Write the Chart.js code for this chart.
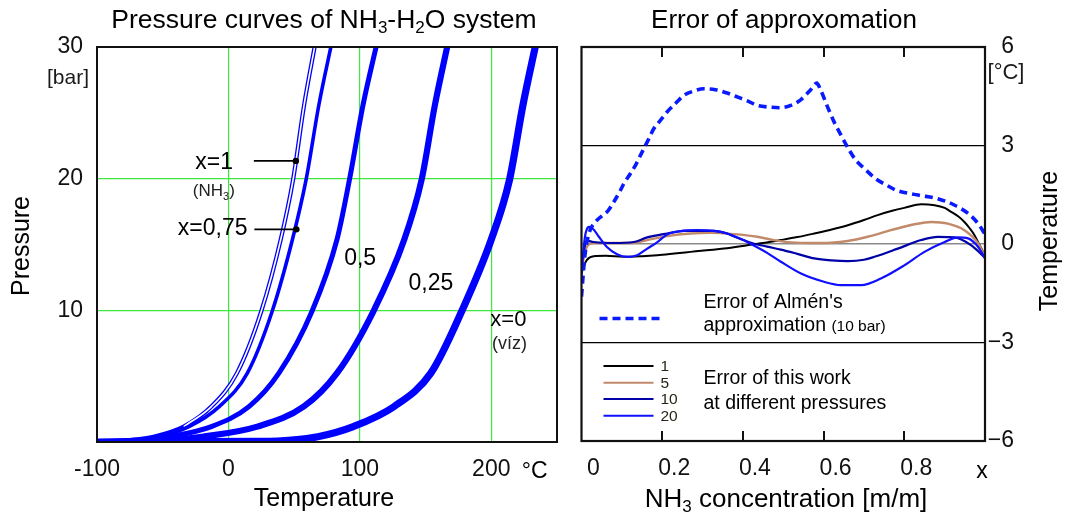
<!DOCTYPE html>
<html><head><meta charset="utf-8">
<script src="https://cdn.jsdelivr.net/npm/chart.js@4.4.0/dist/chart.umd.min.js"></script>
<style>
html,body{margin:0;padding:0;background:#fff;}
#wrap{position:relative;width:1068px;height:517px;overflow:hidden;}
canvas{position:absolute;left:0;top:0;}
</style></head><body>
<div id="wrap"><canvas id="left" width="1068" height="517"></canvas><canvas id="right" width="1068" height="517"></canvas></div>
<script>
const FONT = "'Liberation Sans', Arial, sans-serif";

// ---------- Left panel: pressure curves (T in °C at given pressure in bar) ----------
const pressures = [0, 0.05, 0.15, 0.4, 1.17, 2.69, 5.23, 9.93, 15.38, 19.93, 25.54, 30.5];
const tempX1    = [-100, -90, -75, -57, -34, -13, 6.5, 25, 39.8, 49.2, 57.5, 66.5];
const tempX075  = [-100, -88, -71, -53, -30, -7, 14.4, 33.3, 48.7, 59.1, 68.7, 79];
const tempX05   = [-100, -85, -63, -45, -13, 15.6, 38.4, 63.6, 82.6, 92.1, 102.3, 113.5];
const tempX025  = [-100, -70, -44, -20, 22, 57.3, 82.6, 110.3, 133.8, 147, 157, 167.5];
const tempX0    = [-100, 25, 48, 68, 95, 126, 154, 177.5, 200, 213.9, 224, 234.5];
const tempTicks = [-100, 0, 100, 200];
const pressureTicks = [0, 10, 20, 30];
// leader-line anchor points on curves (T, P)
const markerX1 = [51.3, 21.35];
const markerX075 = [51.7, 16.15];

// ---------- Right panel: approximation error (°C) vs NH3 concentration ----------
const concAlmen = [0, 0.008, 0.018, 0.033, 0.05, 0.065, 0.08, 0.095, 0.105, 0.121, 0.134, 0.146, 0.167, 0.179, 0.196, 0.212, 0.233, 0.254, 0.279, 0.303, 0.332, 0.361, 0.382, 0.411, 0.436, 0.465, 0.491, 0.519, 0.544, 0.568, 0.583, 0.593, 0.61, 0.626, 0.639, 0.664, 0.68, 0.701, 0.73, 0.755, 0.78, 0.834, 0.883, 0.925, 0.958, 0.983, 1.0];
const errAlmen  = [-1.6, -0.4, 0.3, 0.65, 0.85, 1.0, 1.28, 1.6, 1.84, 2.14, 2.4, 2.7, 3.21, 3.51, 3.77, 4.02, 4.28, 4.53, 4.66, 4.73, 4.70, 4.60, 4.50, 4.36, 4.22, 4.17, 4.15, 4.22, 4.40, 4.70, 4.90, 4.68, 4.17, 3.72, 3.41, 2.85, 2.55, 2.30, 1.98, 1.80, 1.64, 1.49, 1.38, 1.18, 0.93, 0.62, 0.3];
const conc1  = [0, 0.005, 0.013, 0.03, 0.06, 0.104, 0.15, 0.188, 0.23, 0.27, 0.31, 0.353, 0.411, 0.45, 0.494, 0.535, 0.577, 0.62, 0.66, 0.7, 0.734, 0.77, 0.8, 0.842, 0.875, 0.9, 0.916, 0.935, 0.949, 0.962, 0.974, 0.985, 0.995, 1.0];
const err1   = [-0.9, -0.7, -0.49, -0.37, -0.36, -0.39, -0.37, -0.34, -0.29, -0.24, -0.19, -0.14, -0.04, 0.03, 0.12, 0.21, 0.32, 0.44, 0.57, 0.73, 0.88, 1.01, 1.1, 1.21, 1.18, 1.1, 0.98, 0.83, 0.67, 0.48, 0.27, 0.0, -0.24, -0.43];
const conc5  = [0, 0.006, 0.015, 0.03, 0.08, 0.13, 0.163, 0.212, 0.27, 0.32, 0.378, 0.436, 0.477, 0.52, 0.57, 0.618, 0.66, 0.709, 0.767, 0.825, 0.867, 0.908, 0.949, 0.983, 1.0];
const err5   = [-0.8, -0.4, -0.05, 0.03, 0.03, 0.04, 0.12, 0.24, 0.32, 0.34, 0.30, 0.22, 0.12, 0.05, 0.03, 0.04, 0.09, 0.22, 0.42, 0.60, 0.67, 0.62, 0.42, 0.02, -0.39];
const conc10 = [0, 0.006, 0.013, 0.03, 0.08, 0.13, 0.163, 0.212, 0.254, 0.328, 0.361, 0.38, 0.42, 0.46, 0.494, 0.535, 0.577, 0.62, 0.66, 0.7, 0.726, 0.784, 0.842, 0.883, 0.925, 0.966, 0.99, 1.0];
const err10  = [-0.6, -0.2, 0.1, 0.06, 0.03, 0.06, 0.2, 0.32, 0.40, 0.40, 0.32, 0.22, 0.04, -0.08, -0.17, -0.3, -0.44, -0.5, -0.52, -0.48, -0.39, -0.14, 0.12, 0.22, 0.2, -0.04, -0.3, -0.42];
const conc20 = [0, 0.004, 0.01, 0.02, 0.03, 0.043, 0.063, 0.088, 0.113, 0.138, 0.163, 0.188, 0.212, 0.245, 0.287, 0.328, 0.361, 0.39, 0.42, 0.46, 0.494, 0.544, 0.601, 0.643, 0.693, 0.742, 0.8, 0.85, 0.9, 0.933, 0.958, 0.983, 1.0];
const err20  = [-1.0, -0.3, 0.32, 0.52, 0.44, 0.22, -0.09, -0.31, -0.39, -0.34, -0.14, 0.06, 0.29, 0.39, 0.42, 0.40, 0.32, 0.18, 0.0, -0.27, -0.54, -0.9, -1.15, -1.25, -1.25, -1.05, -0.65, -0.24, 0.06, 0.2, 0.17, -0.09, -0.44];
const concTicks = [0, 0.2, 0.4, 0.6, 0.8];
const errTicks = [-6, -3, 0, 3, 6];

function zip(xs, ys) { return xs.map((v, i) => ({x: v, y: ys[i]})); }
function curve(ts) { return ts.map((t, i) => ({x: t, y: pressures[i]})); }

function drawParts(ctx, parts, x, y, align, color) {
  ctx.save();
  ctx.fillStyle = color || '#000';
  ctx.textAlign = 'left'; ctx.textBaseline = 'alphabetic';
  let w = 0;
  for (const p of parts) { ctx.font = p[1] + 'px ' + FONT; w += ctx.measureText(p[0]).width; }
  let cx = align === 'center' ? x - w / 2 : align === 'right' ? x - w : x;
  for (const p of parts) { ctx.font = p[1] + 'px ' + FONT; ctx.fillText(p[0], cx, y + (p[2] || 0)); cx += ctx.measureText(p[0]).width; }
  ctx.restore();
}
function drawRotated(ctx, text, x, y, size) {
  ctx.save(); ctx.translate(x, y); ctx.rotate(-Math.PI / 2);
  ctx.font = size + 'px ' + FONT; ctx.textAlign = 'center'; ctx.textBaseline = 'middle';
  ctx.fillStyle = '#000'; ctx.fillText(text, 0, 0); ctx.restore();
}

const GREEN = '#3ee83e';
const BLUE = '#0000ff';

const leftDecor = {
  id: 'leftDecor',
  afterDraw(chart) {
    const {ctx, chartArea: a, scales: {x, y}} = chart;
    ctx.save();
    ctx.strokeStyle = '#111'; ctx.lineWidth = 2;
    ctx.strokeRect(a.left, a.top, a.right - a.left, a.bottom - a.top);
    // title
    drawParts(ctx, [['Pressure curves of NH', 26.5], ['3', 17, 5], ['-H', 26.5], ['2', 17, 5], ['O system', 26.5]], 324, 28, 'center');
    drawParts(ctx, [['[bar]', 21]], 68, 84, 'center', '#1a1a1a');
    drawRotated(ctx, 'Pressure', 22, 246, 25);
    drawParts(ctx, [['Temperature', 25]], (a.left + a.right) / 2 - 3, 506, 'center');
    drawParts(ctx, [['°C', 23]], x.getPixelForValue(233), 478, 'center');
    // curve annotations
    const px = (t) => x.getPixelForValue(t), py = (p) => y.getPixelForValue(p);
    drawParts(ctx, [['x=1', 23]], px(-10.8), py(20.72), 'center');
    drawParts(ctx, [['(NH', 17], ['3', 11, 4], [')', 17]], px(-11.1), py(18.66), 'center', '#222');
    drawParts(ctx, [['x=0,75', 23]], px(-12), py(15.69), 'center');
    drawParts(ctx, [['0,5', 23]], px(100.2), py(13.48), 'center');
    drawParts(ctx, [['0,25', 23]], px(154), py(11.58), 'center');
    drawParts(ctx, [['x=0', 22]], px(213), py(8.83), 'center');
    drawParts(ctx, [['(víz)', 18]], px(213.9), py(7.08), 'center', '#222');
    // leader lines with dots
    ctx.strokeStyle = '#000'; ctx.fillStyle = '#000'; ctx.lineWidth = 1.6;
    for (const m of [markerX1, markerX075]) {
      const mx = px(m[0]), my = py(m[1]);
      ctx.beginPath(); ctx.moveTo(mx - 42, my); ctx.lineTo(mx, my); ctx.stroke();
      ctx.beginPath(); ctx.arc(mx, my, 3.2, 0, Math.PI * 2); ctx.fill();
    }
    ctx.restore();
  }
};

const rightDecor = {
  id: 'rightDecor',
  afterDraw(chart) {
    const {ctx, chartArea: a, scales: {x}} = chart;
    ctx.save();
    ctx.strokeStyle = '#111'; ctx.lineWidth = 2.2;
    ctx.strokeRect(a.left, a.top, a.right - a.left, a.bottom - a.top);
    // inward ticks top and bottom
    ctx.lineWidth = 2;
    for (const v of concTicks) {
      if (v === 0) continue;
      const tx = Math.round(x.getPixelForValue(v));
      ctx.beginPath(); ctx.moveTo(tx, a.top); ctx.lineTo(tx, a.top + 10); ctx.stroke();
      ctx.beginPath(); ctx.moveTo(tx, a.bottom); ctx.lineTo(tx, a.bottom - 10); ctx.stroke();
    }
    drawParts(ctx, [['Error of approxomation', 26]], 784, 28, 'center');
    drawParts(ctx, [['[°C]', 22]], 1006, 79, 'center', '#1a1a1a');
    drawRotated(ctx, 'Temperature', 1050, 241, 25);
    drawParts(ctx, [['NH', 26], ['3', 17, 5], [' concentration [m/m]', 26]], 786, 507, 'center');
    drawParts(ctx, [['x', 23]], x.getPixelForValue(1) - 3, 478, 'center');
    // legend
    const L = a.left;
    ctx.lineCap = 'butt';
    ctx.strokeStyle = '#0a1aff'; ctx.lineWidth = 3.5; ctx.setLineDash([8, 5]);
    ctx.beginPath(); ctx.moveTo(L + 18, 318.5); ctx.lineTo(L + 78, 318.5); ctx.stroke();
    ctx.setLineDash([]);
    drawParts(ctx, [["Error of Almén's", 19.5]], L + 122, 308, 'left');
    drawParts(ctx, [['approximation ', 19.5], ['(10 bar)', 15.5]], L + 122, 331, 'left');
    const samples = [['#000000', '1', 366], ['#c28a6a', '5', 382.7], ['#0000a8', '10', 399], ['#1010ff', '20', 415.7]];
    for (const s of samples) {
      ctx.strokeStyle = s[0]; ctx.lineWidth = 2;
      ctx.beginPath(); ctx.moveTo(L + 22, s[2]); ctx.lineTo(L + 72, s[2]); ctx.stroke();
      drawParts(ctx, [[s[1], 15.5]], L + 79, s[2] + 5, 'left', '#2a2418');
    }
    drawParts(ctx, [['Error of this work', 19.5]], L + 122, 384, 'left');
    drawParts(ctx, [['at different pressures', 19.5]], L + 122, 408.5, 'left');
    ctx.restore();
  }
};

const common = {
  responsive: false, animation: false, devicePixelRatio: 1,
  plugins: {legend: {display: false}, tooltip: {enabled: false}, title: {display: false}},
  elements: {point: {radius: 0}, line: {cubicInterpolationMode: 'monotone'}}
};

function lineDs(data, color, width, order, extra) {
  return Object.assign({data, borderColor: color, borderWidth: width, fill: false, pointRadius: 0, order}, extra || {});
}

new Chart(document.getElementById('left'), {
  type: 'line',
  data: {datasets: [
    lineDs(curve(tempX1), BLUE, 4.2, 5),
    lineDs(curve(tempX1).slice(4), '#ffffff', 1.6, 4),
    lineDs(curve(tempX075), BLUE, 3.6, 3),
    lineDs(curve(tempX05), BLUE, 5, 2),
    lineDs(curve(tempX025), BLUE, 6.2, 1),
    lineDs(curve(tempX0), BLUE, 7.2, 0)
  ]},
  options: Object.assign({}, common, {
    layout: {padding: {left: 0, right: 1068 - 557, top: 47, bottom: 0}},
    scales: {
      x: {type: 'linear', position: 'bottom', min: -100, max: 250,
        afterBuildTicks: (s) => { s.ticks = tempTicks.concat([250]).map(v => ({value: v})); },
        afterFit: (s) => { s.height = 75; },
        border: {display: false},
        grid: {drawTicks: false, lineWidth: 1.2, color: (c) => (c.tick && (c.tick.value === -100 || c.tick.value === 250)) ? 'rgba(0,0,0,0)' : GREEN},
        ticks: {padding: 14, color: '#111', font: {family: FONT, size: 23}, maxRotation: 0, autoSkip: false,
          callback: (v) => v === 250 ? '' : String(v)}
      },
      y: {type: 'linear', position: 'left', min: 0, max: 30,
        afterBuildTicks: (s) => { s.ticks = pressureTicks.map(v => ({value: v})); },
        afterFit: (s) => { s.width = 97; },
        border: {display: false},
        grid: {drawTicks: false, lineWidth: 1.2, color: (c) => (c.tick && (c.tick.value === 0 || c.tick.value === 30)) ? 'rgba(0,0,0,0)' : GREEN},
        ticks: {padding: 14, color: '#111', font: {family: FONT, size: 23}, autoSkip: false,
          callback: (v) => v === 0 ? '' : String(v)}
      }
    }
  }),
  plugins: [leftDecor]
});

new Chart(document.getElementById('right'), {
  type: 'line',
  data: {datasets: [
    lineDs(zip(conc1, err1), '#000000', 2, 4),
    lineDs(zip(conc5, err5), '#c28a6a', 2.4, 3),
    lineDs(zip(conc10, err10), '#0000a8', 2.2, 2),
    lineDs(zip(conc20, err20), '#1010ff', 2.2, 1),
    lineDs(zip(concAlmen, errAlmen), '#0a1aff', 3.6, 0, {borderDash: [8, 5]})
  ]},
  options: Object.assign({}, common, {
    layout: {padding: {left: 581.5, right: 1068 - 1014, top: 47, bottom: 0}},
    scales: {
      x: {type: 'linear', position: 'bottom', min: 0, max: 1,
        afterBuildTicks: (s) => { s.ticks = concTicks.concat([1]).map(v => ({value: v})); },
        afterFit: (s) => { s.height = 76; },
        border: {display: false},
        grid: {display: false, drawTicks: false},
        ticks: {padding: 14, labelOffset: 12, color: '#111', font: {family: FONT, size: 23}, maxRotation: 0, autoSkip: false,
          callback: (v) => v === 1 ? '' : (v === 0 ? '0' : (Math.round(v * 10) / 10).toFixed(1))}
      },
      y: {type: 'linear', position: 'right', min: -6, max: 6,
        afterBuildTicks: (s) => { s.ticks = errTicks.map(v => ({value: v})); },
        afterFit: (s) => { s.width = 1014 - 985; },
        border: {display: false},
        grid: {drawTicks: false,
          lineWidth: (c) => (c.tick && c.tick.value === 0) ? 1.5 : 1.2,
          color: (c) => { const v = c.tick ? c.tick.value : null; return v === 0 ? '#8a8a8a' : (Math.abs(v) === 3 ? '#000' : 'rgba(0,0,0,0)'); }},
        ticks: {padding: 4, crossAlign: 'far', color: '#111', font: {family: FONT, size: 23}, autoSkip: false,
          callback: (v) => v < 0 ? '\u2212' + Math.abs(v) : String(v)}
      }
    }
  }),
  plugins: [rightDecor]
});
</script>
</body></html>
